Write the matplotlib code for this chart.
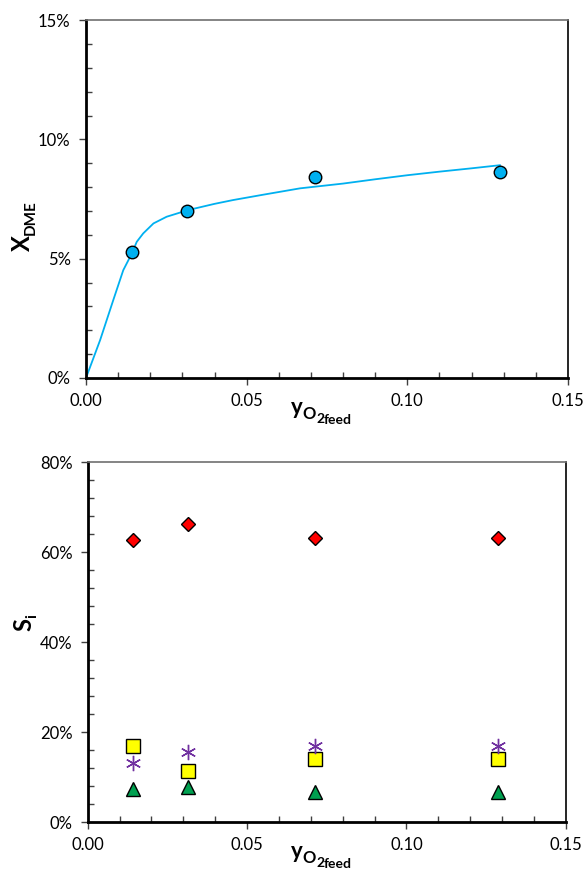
import numpy as np
import matplotlib
matplotlib.use('Agg')
import matplotlib.pyplot as plt
from matplotlib.ticker import MultipleLocator, PercentFormatter

plt.rcParams['font.family'] = ['Lato', 'DejaVu Sans']

# conversion data
y_o2 = [0.0143, 0.0315, 0.0713, 0.1288]
x_dme = [5.3, 7.0, 8.42, 8.63]

# model curve
curve_x = [0.0, 0.0044, 0.0085, 0.0116, 0.0143, 0.0158, 0.0178, 0.0210,
           0.0251, 0.0318, 0.0400, 0.0458, 0.0550, 0.0666, 0.0800, 0.0900,
           0.1000, 0.1100, 0.1200, 0.1288]
curve_y = [0.0, 1.59, 3.27, 4.52, 5.23, 5.71, 6.06, 6.48,
           6.76, 7.04, 7.30, 7.46, 7.68, 7.95, 8.15, 8.33,
           8.50, 8.65, 8.79, 8.92]

# selectivities
s_diamond = [62.7, 66.2, 63.1, 63.1]
s_square = [16.9, 11.3, 14.0, 14.0]
s_star = [13.1, 15.6, 16.9, 16.9]
s_triangle = [7.3, 7.8, 6.7, 6.7]

fig = plt.figure(figsize=(5.85, 8.77), dpi=100)
ax1 = fig.add_axes([0.147, 0.569, 0.824, 0.408])
ax2 = fig.add_axes([0.150, 0.0627, 0.817, 0.4103])


def style(ax, ymax, ymaj, ymin):
    ax.set_xlim(0, 0.15)
    ax.set_ylim(0, ymax)
    ax.xaxis.set_major_locator(MultipleLocator(0.05))
    ax.xaxis.set_minor_locator(MultipleLocator(0.01))
    ax.yaxis.set_major_locator(MultipleLocator(ymaj))
    ax.yaxis.set_minor_locator(MultipleLocator(ymin))
    ax.xaxis.set_major_formatter(plt.FormatStrFormatter('%.2f'))
    ax.yaxis.set_major_formatter(PercentFormatter(decimals=0))
    ax.tick_params(which='major', direction='out', length=5, width=1,
                   labelsize=12, color='#404040', pad=6)
    ax.tick_params(which='minor', direction='in', length=4, width=1,
                   color='#404040')
    ax.spines['left'].set_linewidth(2)
    ax.spines['bottom'].set_linewidth(2)
    ax.spines['top'].set_color('#707070')
    ax.spines['top'].set_linewidth(1.2)
    ax.spines['right'].set_linewidth(1.2)


def xlabel(ax, x0):
    # y_{O_2 feed} built from pieces so the subscripts stay readable
    t = ax.annotate('y', xy=(x0, 0), xycoords='axes fraction',
                    xytext=(0, -26), textcoords='offset points',
                    fontsize=16, weight='bold', va='baseline', ha='left')
    t = ax.annotate('O', xy=(1, 0), xycoords=t, xytext=(0, -3),
                    textcoords='offset points', fontsize=12, weight='bold',
                    va='bottom', ha='left')
    t = ax.annotate('2', xy=(1, 0), xycoords=t, xytext=(0, -2),
                    textcoords='offset points', fontsize=10, weight='bold',
                    va='bottom', ha='left')
    ax.annotate('feed', xy=(1, 0), xycoords=t, xytext=(0, -1),
                textcoords='offset points', fontsize=10, weight='bold',
                va='bottom', ha='left')


def ylabel(ax, main, sub, yfrac):
    t = ax.annotate(main, xy=(0, yfrac), xycoords='axes fraction',
                    xytext=(-46, 0), textcoords='offset points',
                    fontsize=17, weight='bold', rotation=90,
                    va='center', ha='center')
    ax.annotate(sub, xy=(1, 1), xycoords=t, xytext=(3, 0),
                textcoords='offset points', fontsize=11, weight='bold',
                rotation=90, va='bottom', ha='right')


ax1.plot(curve_x, curve_y, color='#00B0F0', lw=1.3, zorder=2)
ax1.plot(y_o2, x_dme, 'o', color='#00B0F0', mec='black', mew=1,
         ms=9, zorder=3)
style(ax1, 15, 5, 1)
xlabel(ax1, 0.425)
ylabel(ax1, 'X', 'DME', 0.377)

ax2.plot(y_o2, s_diamond, 'D', color='#FF0000', mec='black', mew=1, ms=7)
ax2.plot(y_o2, s_square, 's', color='#FFFF00', mec='black', mew=1, ms=10)
ax2.plot(y_o2, s_star, marker=(6, 2, 0), ls='none', color='#7030A0',
         mec='#7030A0', mew=1, ms=11)
ax2.plot(y_o2, s_triangle, '^', color='#00A050', mec='black', mew=1, ms=10)
style(ax2, 80, 20, 4)
xlabel(ax2, 0.425)
ylabel(ax2, 'S', 'i', 0.55)

fig.savefig('out.png', dpi=100)
